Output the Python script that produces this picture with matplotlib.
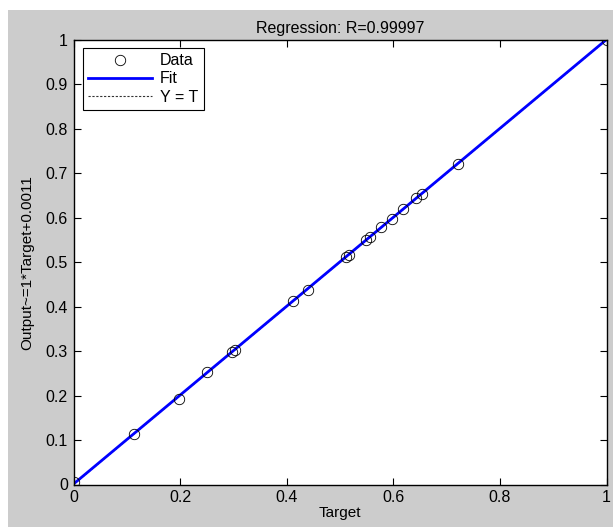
import matplotlib
matplotlib.use("Agg")
import matplotlib.pyplot as plt
import numpy as np
from matplotlib.patches import Rectangle

plt.rcParams["font.family"] = ["Liberation Sans", "DejaVu Sans"]

# data
target = [0.0, 0.1135, 0.197, 0.251, 0.298, 0.303, 0.412, 0.44, 0.512, 0.516,
          0.549, 0.556, 0.577, 0.597, 0.619, 0.643, 0.653, 0.721, 1.0]
output = [0.005, 0.1136, 0.192, 0.252, 0.298, 0.303, 0.413, 0.438, 0.512, 0.516,
          0.549, 0.556, 0.579, 0.597, 0.619, 0.645, 0.653, 0.72, 1.0]
fit_slope = 1.0
fit_offset = 0.0011
r_value = 0.99997
x_ticks = [0, 0.2, 0.4, 0.6, 0.8, 1]
y_ticks = [0, 0.1, 0.2, 0.3, 0.4, 0.5, 0.6, 0.7, 0.8, 0.9, 1]

fig = plt.figure(figsize=(6.13, 5.27), dpi=100, facecolor="white")
# grey MATLAB figure background, leaving a thin white margin top/left
fig.patches.append(Rectangle((8 / 613, 0), 1, 1 - 10 / 527, transform=fig.transFigure,
                             facecolor="#cccccc", edgecolor="none", zorder=-10))

ax = fig.add_axes([73.5 / 613, 1 - 484.5 / 527, 533 / 613, 444.5 / 527])
ax.set_facecolor("white")

t = np.array([0.0, 1.0])
ax.plot(target, output, linestyle="none", marker="o", markersize=7.5,
        markerfacecolor="none", markeredgecolor="black", markeredgewidth=0.6,
        label="Data", zorder=3)
ax.plot(t, fit_slope * t + fit_offset, color="blue", linewidth=2, label="Fit", zorder=2)
ax.plot(t, t, color="#333333", linestyle=(0, (2, 1.5)), linewidth=0.8, label="Y = T", zorder=1)

ax.set_xlim(0, 1)
ax.set_ylim(0, 1)
ax.set_xticks(x_ticks)
ax.set_xticklabels(["0", "0.2", "0.4", "0.6", "0.8", "1"])
ax.set_yticks(y_ticks)
ax.set_yticklabels(["0", "0.1", "0.2", "0.3", "0.4", "0.5", "0.6", "0.7", "0.8", "0.9", "1"])
ax.tick_params(direction="in", top=True, right=True, length=5, width=0.8,
               labelsize=11.5, colors="black", pad=4)
for s in ax.spines.values():
    s.set_linewidth(1)

ax.set_title(f"Regression: R={r_value}", fontsize=11.5, pad=5)
ax.set_xlabel("Target", fontsize=11, labelpad=1)
ax.set_ylabel(f"Output~={fit_slope:g}*Target+{fit_offset}", fontsize=11, labelpad=8)

leg = ax.legend(loc="upper left", bbox_to_anchor=(0.017, 0.983), fontsize=11.5,
                frameon=True, fancybox=False, edgecolor="black", framealpha=1,
                handlelength=4.0, handletextpad=0.5, borderpad=0.35, labelspacing=0.2,
                borderaxespad=0)
leg.get_frame().set_linewidth(0.8)

fig.savefig("out.png", dpi=100)
